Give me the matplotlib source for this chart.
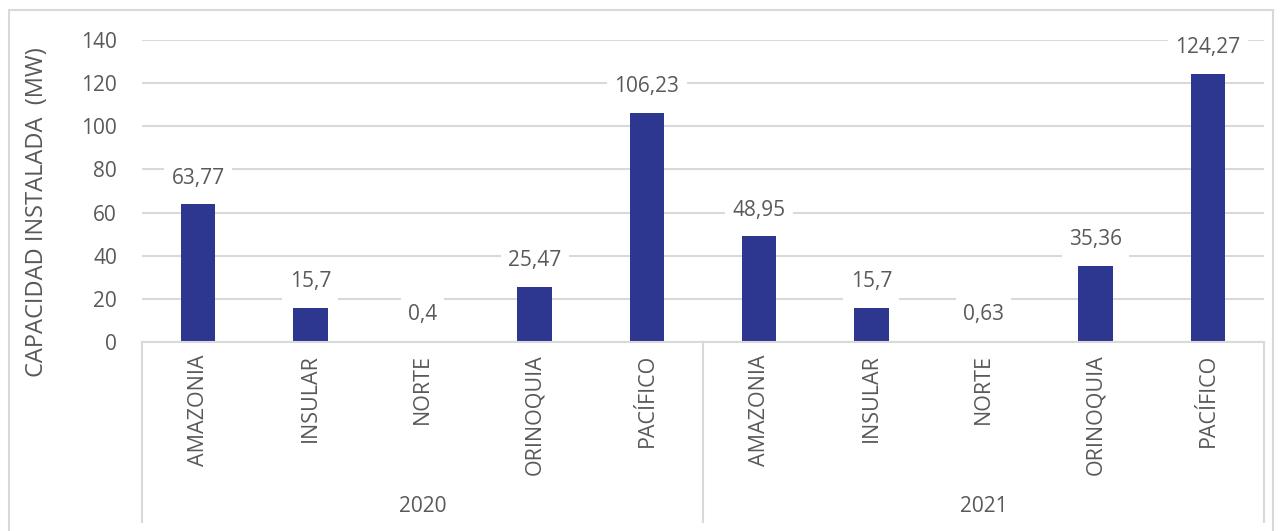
import numpy as np
import matplotlib.pyplot as plt
from matplotlib import transforms
from matplotlib.patches import Rectangle
from matplotlib.lines import Line2D

plt.rcParams['font.family'] = ['Open Sans', 'DejaVu Sans']

regions = ["AMAZONIA", "INSULAR", "NORTE", "ORINOQUIA", "PACÍFICO"]
years = ["2020", "2021"]
cap_2020 = [63.77, 15.7, 0.4, 25.47, 106.23]
cap_2021 = [48.95, 15.7, 0.63, 35.36, 124.27]
yticks = [0, 20, 40, 60, 80, 100, 120, 140]

txt = "#595959"
grid = "#D9D9D9"
bar_col = "#2E3790"

W, H = 1282, 531
fig = plt.figure(figsize=(W / 100, H / 100), dpi=100)
ax = fig.add_axes([142 / W, 1 - 342 / H, (1264 - 142) / W, (342 - 40) / H])

values = cap_2020 + cap_2021
labels = regions + regions
x = np.arange(len(values))
ax.bar(x, values, width=0.31, color=bar_col, zorder=2)
ax.set_xlim(-0.5, len(values) - 0.5)
ax.set_ylim(0, 140)
ax.set_yticks(yticks)
ax.set_yticklabels([str(v) for v in yticks], fontsize=15, color=txt)
ax.tick_params(axis='y', length=0, pad=18)
ax.tick_params(axis='x', length=0, labelbottom=False)
for s in ["top", "right", "left"]:
    ax.spines[s].set_visible(False)
ax.spines["bottom"].set_color(grid)
ax.spines["bottom"].set_linewidth(1.5)
ax.grid(axis='y', color=grid, linewidth=1.5, zorder=0)
ax.set_axisbelow(True)

# data labels with white boxes
for xi, v in zip(x, values):
    lab = f"{v:g}".replace(".", ",")
    ax.annotate(lab, (xi, v), xytext=(0, 19), textcoords="offset points",
                ha="center", va="center", fontsize=15, color=txt, zorder=3,
                bbox=dict(boxstyle="square,pad=0.35", fc="white", ec="none"))

# category labels and group separators
tr = transforms.blended_transform_factory(ax.transData, fig.transFigure)
for xi, lab in zip(x, labels):
    ax.text(xi, 1 - 354 / H, lab, transform=tr, rotation=90, ha="center",
            va="top", fontsize=15.5, color=txt)
for xs in [-0.5, 4.5, 9.5]:
    ax.add_line(Line2D([xs, xs], [1 - 342 / H, 1 - 522 / H], transform=tr,
                       color=grid, linewidth=1.5, clip_on=False))
for gi, yr in enumerate(years):
    ax.text(gi * 5 + 2, 1 - 507 / H, yr, transform=tr, ha="center",
            va="center", fontsize=15, color=txt)

fig.text(37 / W, 1 - 212 / H, "CAPACIDAD INSTALADA  (MW)", rotation=90,
         ha="center", va="center", fontsize=17, color=txt)

# outer chart border
fig.add_artist(Rectangle((9 / W, -0.1), (1273 - 9) / W, 1.1 - 10 / H,
                         transform=fig.transFigure, fill=False,
                         edgecolor=grid, linewidth=1.5))

fig.savefig("out.png", dpi=100)
